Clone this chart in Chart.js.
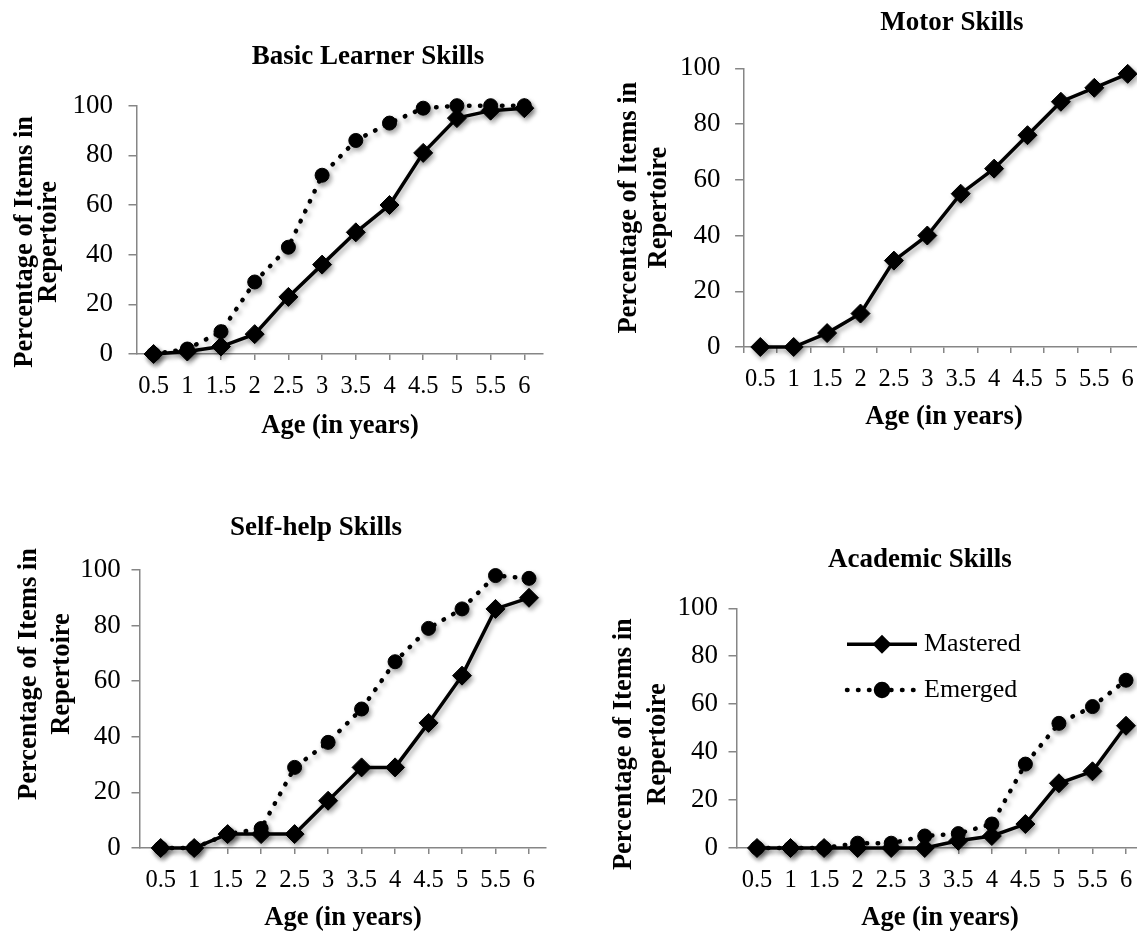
<!DOCTYPE html>
<html lang="en">
<head>
    <meta charset="UTF-8">
    <title>Skill Acquisition by Age</title>
    <script src="https://cdn.jsdelivr.net/npm/chart.js"></script>
    <style>
        html, body { margin: 0; padding: 0; background: #fff; overflow: hidden; }
        body { width: 1137px; height: 932px; position: relative; }
        canvas { position: absolute; }
    </style>
</head>
<body>
    <canvas id="basicChart"></canvas>
    <canvas id="motorChart"></canvas>
    <canvas id="selfHelpChart"></canvas>
    <canvas id="academicChart"></canvas>

<script>
// ages on the x axis (years)
const ages = [0.5, 1, 1.5, 2, 2.5, 3, 3.5, 4, 4.5, 5, 5.5, 6];

// percentage of items in repertoire
const basicMastered = [0, 1, 3, 8, 23, 36, 49, 60, 81, 95, 98, 99];
const basicEmerged = [0, 2, 9, 29, 43, 72, 86, 93, 99, 100, 100, 100];

const motorMastered = [0, 0, 5, 12, 31, 40, 55, 64, 76, 88, 93, 98];

const selfHelpMastered = [0, 0, 5, 5, 5, 17, 29, 29, 45, 62, 86, 90];
const selfHelpEmerged = [0, 0, 5, 7, 29, 38, 50, 67, 79, 86, 98, 97];

const academicMastered = [0, 0, 0, 0, 0, 0, 3, 5, 10, 27, 32, 51];
const academicEmerged = [0, 0, 0, 2, 2, 5, 6, 10, 35, 52, 59, 70];

const serif = "'Liberation Serif', 'Times New Roman', serif";
const axisGray = "#868686";

function mastered(values) {
    return {
        label: "Mastered",
        data: ages.map((a, i) => ({ x: a, y: values[i] })),
        borderColor: "#000",
        backgroundColor: "#000",
        borderWidth: 3.5,
        pointStyle: "rectRot",
        pointRadius: 9.5,
        pointBorderWidth: 1,
        clip: false
    };
}

function emerged(values) {
    return {
        label: "Emerged",
        data: ages.map((a, i) => ({ x: a, y: values[i] })),
        borderColor: "#000",
        backgroundColor: "#000",
        borderWidth: 4.5,
        borderDash: [0.5, 10.5],
        borderCapStyle: "round",
        pointStyle: "circle",
        pointRadius: 7,
        pointBorderWidth: 1,
        clip: false
    };
}

// soft grey drop shadow under lines and markers, like the original
const markerShadow = {
    id: "markerShadow",
    beforeDatasetsDraw(chart) {
        const c = chart.ctx;
        c.save();
        c.shadowColor = "rgba(0,0,0,0.35)";
        c.shadowBlur = 5;
        c.shadowOffsetX = 2;
        c.shadowOffsetY = 3;
    },
    afterDatasetsDraw(chart) {
        chart.ctx.restore();
    }
};

// legend drawn inside the plot: line sample with marker, then label
const insideLegend = {
    id: "insideLegend",
    afterDraw(chart, args, opts) {
        if (!opts || !opts.rows) return;
        const { ctx, chartArea } = chart;
        chart.data.datasets.forEach((ds, i) => {
            const y = chartArea.top + opts.rows[i];
            const x0 = chartArea.left + opts.lineStart;
            const x1 = x0 + opts.lineLength;
            ctx.save();
            ctx.strokeStyle = ds.borderColor;
            ctx.lineWidth = ds.borderWidth;
            ctx.lineCap = ds.borderCapStyle || "butt";
            ctx.setLineDash(ds.borderDash || []);
            ctx.beginPath();
            ctx.moveTo(x0, y);
            ctx.lineTo(x1, y);
            ctx.stroke();
            ctx.setLineDash([]);
            ctx.fillStyle = ds.backgroundColor;
            Chart.helpers.drawPoint(ctx, {
                pointStyle: ds.pointStyle,
                radius: opts.markerRadius[i],
                borderWidth: 1,
                rotation: 0
            }, (x0 + x1) / 2, y);
            ctx.fillStyle = "#000";
            ctx.font = "26px " + serif;
            ctx.textBaseline = "middle";
            ctx.textAlign = "left";
            ctx.fillText(ds.label, x1 + opts.gap, y);
            ctx.restore();
        });
    }
};

function makePanel(id, box, cfg) {
    const canvas = document.getElementById(id);
    canvas.width = box.width;
    canvas.height = box.height;
    canvas.style.left = box.left + "px";
    canvas.style.top = box.top + "px";

    const xTicks = { drawOnChartArea: false, drawTicks: true, tickLength: 6, color: axisGray, lineWidth: 1.5 };
    const yTicks = { drawOnChartArea: false, drawTicks: true, tickLength: 8.5, color: axisGray, lineWidth: 1.5 };
    const axisLine = { color: axisGray, width: 1.5 };
    const titleFont = { family: serif, size: 26.5, weight: "bold" };

    let xScale = {
        ticks: { color: "#000", font: { family: serif, size: 24.5 }, padding: 12.3, maxRotation: 0, autoSkip: false },
        grid: xTicks,
        border: axisLine,
        title: {
            display: true,
            text: "Age (in years)",
            color: "#000",
            font: titleFont,
            padding: { top: 0, bottom: cfg.xTitleBottom }
        },
        afterFit: s => { s.height = cfg.xHeight; }
    };
    if (cfg.categoryX) {
        xScale.type = "category";
        xScale.offset = true;
        xScale.grid = Object.assign({}, xTicks, { offset: true });
    } else {
        xScale.type = "linear";
        xScale.min = cfg.xMin;
        xScale.max = cfg.xMax;
        xScale.afterBuildTicks = s => { s.ticks = ages.map(v => ({ value: v })); };
        xScale.ticks.callback = v => String(v);
    }

    const plugins = [markerShadow];
    if (cfg.legend) plugins.push(insideLegend);

    return new Chart(canvas, {
        type: "line",
        data: {
            labels: ages,
            datasets: cfg.datasets
        },
        options: {
            responsive: false,
            animation: false,
            events: [],
            layout: { padding: 0 },
            plugins: {
                legend: { display: false },
                tooltip: { enabled: false },
                title: {
                    display: true,
                    text: cfg.title,
                    color: "#000",
                    font: { family: serif, size: 27, weight: "bold" },
                    padding: { top: cfg.titleTop, bottom: cfg.titleBottom }
                },
                insideLegend: cfg.legend || {}
            },
            scales: {
                x: xScale,
                y: {
                    min: 0,
                    max: 100,
                    ticks: { stepSize: cfg.yStep, color: "#000", font: { family: serif, size: 27 }, padding: cfg.yTickPad },
                    grid: yTicks,
                    border: axisLine,
                    title: {
                        display: true,
                        text: ["Percentage of Items in", "Repertoire"],
                        color: "#000",
                        font: Object.assign({}, titleFont, { lineHeight: cfg.yTitleLH }),
                        padding: { top: cfg.yTitlePad, bottom: 0 }
                    },
                    afterFit: s => {
                        s.width = cfg.yWidth;
                        // the original's axis title sits a little off the axis centre
                        if (!s._titleShifted) {
                            const drawTitle = s.drawTitle;
                            s.drawTitle = function () {
                                this.ctx.save();
                                this.ctx.translate(0, cfg.yTitleShift);
                                drawTitle.call(this);
                                this.ctx.restore();
                            };
                            s._titleShifted = true;
                        }
                    }
                },
                // empty right-hand box so the title centres where the original has it
                spacer: {
                    type: "linear",
                    position: "right",
                    display: true,
                    grid: { display: false },
                    border: { display: false },
                    ticks: { display: false },
                    afterFit: s => { s.width = cfg.rightWidth; }
                }
            }
        },
        plugins: plugins
    });
}

makePanel("basicChart", { left: 0, top: 0, width: 736, height: 454 }, {
    title: "Basic Learner Skills",
    datasets: [mastered(basicMastered), emerged(basicEmerged)],
    titleTop: 40.8, titleBottom: 32.5,
    yWidth: 137, yTitlePad: 12.8, yTitleLH: 0.92, yTitleShift: 12, yTickPad: 15.5, yStep: 20,
    rightWidth: 193, xHeight: 100, xTitleBottom: 12.1,
    xMin: 0.254, xMax: 6.277
});

makePanel("motorChart", { left: 570, top: 0, width: 764, height: 447 }, {
    title: "Motor Skills",
    datasets: [mastered(motorMastered)],
    titleTop: 7.1, titleBottom: 28.8,
    yWidth: 173.6, yTitlePad: 43.8, yTitleLH: 1.15, yTitleShift: 0, yTickPad: 14.5, yStep: 10,
    rightWidth: 189.6, xHeight: 100, xTitleBottom: 14.1,
    categoryX: true
});

makePanel("selfHelpChart", { left: 0, top: 480, width: 632, height: 468 }, {
    title: "Self-help Skills",
    datasets: [mastered(selfHelpMastered), emerged(selfHelpEmerged)],
    titleTop: 31.8, titleBottom: 25.8,
    yWidth: 140, yTitlePad: 13.2, yTitleLH: 1.23, yTitleShift: -35, yTickPad: 10.8, yStep: 20,
    rightWidth: 86, xHeight: 100, xTitleBottom: 14.1,
    xMin: 0.191, xMax: 6.254
});

makePanel("academicChart", { left: 570, top: 480, width: 700, height: 468 }, {
    title: "Academic Skills",
    datasets: [mastered(academicMastered), emerged(academicEmerged)],
    titleTop: 63.8, titleBottom: 32.1,
    yWidth: 167, yTitlePad: 37.2, yTitleLH: 1.27, yTitleShift: 16, yTickPad: 10.5, yStep: 20,
    rightWidth: 127, xHeight: 100, xTitleBottom: 14.1,
    xMin: 0.202, xMax: 6.253,
    legend: { rows: [36, 81.7], lineStart: 110, lineLength: 70, gap: 7, markerRadius: [7, 6] }
});
</script>
</body>
</html>
